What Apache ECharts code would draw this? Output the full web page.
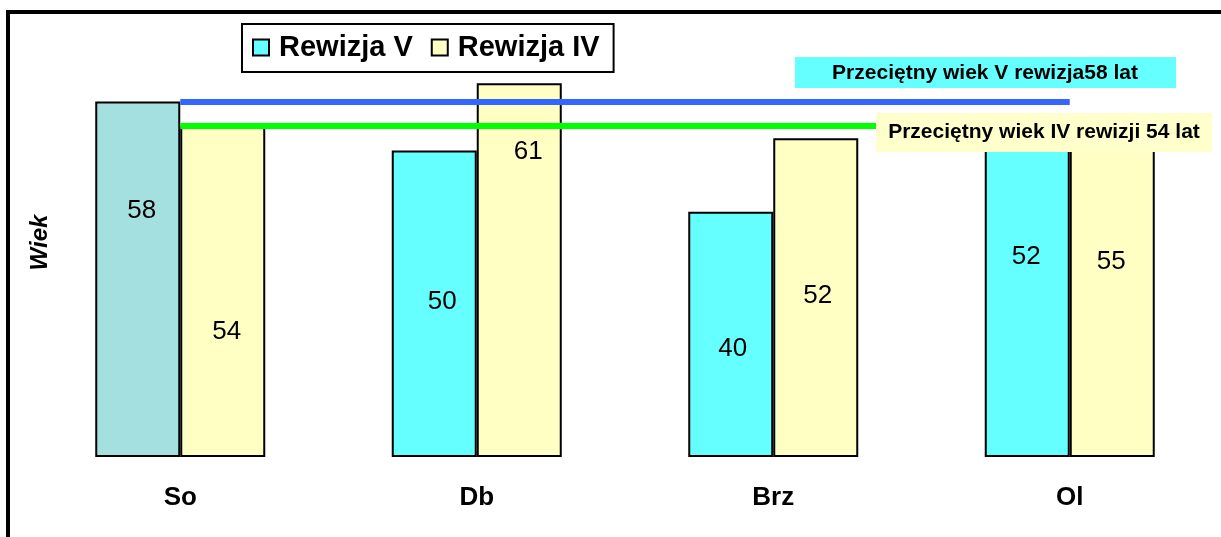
<!DOCTYPE html>
<html>
<head>
<meta charset="utf-8">
<script src="https://cdn.jsdelivr.net/npm/echarts@6/dist/echarts.min.js"></script>
<style>
  html, body { margin: 0; padding: 0; background: #fff; }
  #chart { width: 1221px; height: 537px; }
</style>
</head>
<body>
<div id="chart"></div>
<script>
const categories = ['So', 'Db', 'Brz', 'Ol'];
const rewizjaV = [58, 50, 40, 52];
const rewizjaIV = [54, 61, 52, 55];
const avgV = 58;
const avgIV = 54;

// hand-placed value labels (pixel shift from bar centre)
const shiftV = [[4, -68], [8, -2], [2, 14], [-1, -41]];
const shiftIV = [[4, 40], [9, -118], [2, -2], [-1, -27]];

const FONT = '"Liberation Sans", Arial, sans-serif';
const CYAN = '#66ffff';
const YELLOW = '#ffffc4';

function barData(values, shifts, firstColor) {
    return values.map((v, i) => {
        const item = {value: v, label: {offset: shifts[i]}};
        if (i === 0 && firstColor) item.itemStyle = {color: firstColor};
        return item;
    });
}

function avgLine(value, color) {
    return {
        silent: true, symbol: 'none',
        label: {show: false},
        lineStyle: {color: color, width: 6, type: 'solid', opacity: 1},
        data: [[{coord: [categories[0], value]}, {coord: [categories[categories.length - 1], value]}]]
    };
}

const chart = echarts.init(document.getElementById('chart'));

chart.setOption({
    animation: false,
    backgroundColor: '#fff',
    grid: {left: 32, right: 3, top: 28, bottom: 80},
    legend: {
        left: 242, top: 24,
        padding: [9, 14, 10, 10],
        backgroundColor: '#fff',
        borderColor: '#000', borderWidth: 2,
        itemWidth: 16, itemHeight: 16, itemGap: 18,
        icon: 'rect',
        textStyle: {fontFamily: FONT, fontSize: 29, fontWeight: 'bold', color: '#000', padding: [0, 0, 0, 5]},
        data: ['Rewizja V', 'Rewizja IV']
    },
    xAxis: {
        type: 'category',
        data: categories,
        axisLine: {show: false},
        axisTick: {show: false},
        axisLabel: {fontFamily: FONT, fontSize: 26, fontWeight: 'bold', color: '#000', margin: 28}
    },
    yAxis: {
        type: 'value',
        min: 0, max: 70,
        name: 'Wiek',
        nameLocation: 'middle',
        nameRotate: 90,
        nameGap: -20,
        nameTextStyle: {fontFamily: FONT, fontSize: 24, fontWeight: 'bold', fontStyle: 'italic', color: '#000'},
        axisLine: {show: false},
        axisTick: {show: false},
        axisLabel: {show: false},
        splitLine: {show: false}
    },
    series: [
        {
            name: 'Rewizja V',
            type: 'bar',
            barWidth: 85,
            barGap: '0%',
            data: barData(rewizjaV, shiftV, '#a4e0e0'),
            itemStyle: {color: CYAN, borderColor: '#000', borderWidth: 2},
            label: {show: true, position: 'inside', fontFamily: FONT, fontSize: 26, color: '#000'}
        },
        {
            name: 'Rewizja IV',
            type: 'bar',
            barWidth: 85,
            barGap: '0%',
            data: barData(rewizjaIV, shiftIV, null),
            itemStyle: {color: YELLOW, borderColor: '#000', borderWidth: 2},
            label: {show: true, position: 'inside', fontFamily: FONT, fontSize: 26, color: '#000'}
        },
        // carrier series so the average lines run between category centres
        {
            name: 'avgV',
            type: 'line',
            data: [],
            z: 3,
            markLine: avgLine(avgV, '#3366ff')
        },
        {
            name: 'avgIV',
            type: 'line',
            data: [],
            z: 3,
            markLine: avgLine(avgIV, '#00ff00')
        }
    ],
    graphic: [
        {type: 'line', shape: {x1: 8, y1: 10, x2: 8, y2: 537}, style: {stroke: '#000', lineWidth: 4}},
        {type: 'line', shape: {x1: 6, y1: 12, x2: 1221, y2: 12}, style: {stroke: '#000', lineWidth: 4}},
        {type: 'rect', z: 100, shape: {x: 795, y: 57, width: 381, height: 31}, style: {fill: CYAN}},
        {
            type: 'text', z: 101,
            style: {
                x: 985, y: 73, text: 'Przeciętny wiek V rewizja' + avgV + ' lat',
                font: 'bold 21px ' + FONT, fill: '#000',
                textAlign: 'center', textVerticalAlign: 'middle'
            }
        },
        {type: 'rect', z: 100, shape: {x: 876, y: 113, width: 336, height: 39}, style: {fill: '#ffffcc'}},
        {
            type: 'text', z: 101,
            style: {
                x: 1044, y: 132, text: 'Przeciętny wiek IV rewizji ' + avgIV + ' lat',
                font: 'bold 21px ' + FONT, fill: '#000',
                textAlign: 'center', textVerticalAlign: 'middle'
            }
        }
    ]
});
</script>
</body>
</html>
